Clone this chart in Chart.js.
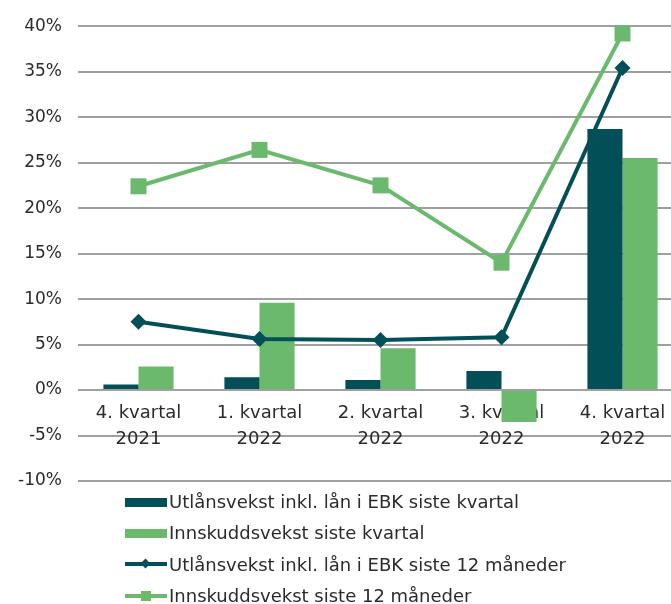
<!DOCTYPE html>
<html>
<head>
<meta charset="utf-8">
<script src="https://cdn.jsdelivr.net/npm/chart.js@4/dist/chart.umd.min.js"></script>
<style>
  html, body { margin: 0; padding: 0; background: #fff; overflow: hidden; }
  #clip { position: relative; width: 671px; height: 604px; overflow: hidden; }
  #wrap { position: absolute; left: 0; top: 0; width: 683px; height: 604px; }
  #chart { display: block; }
  #legend { position: absolute; left: 125px; top: 486px; font-family: "DejaVu Sans", sans-serif; font-size: 18px; color: #2b2b2b; }
  .row { display: flex; align-items: center; height: 31.3px; white-space: nowrap; }
  .mark { position: relative; width: 42px; height: 14px; margin-right: 2px; }
  .box { position: absolute; left: 0; top: 3px; width: 42px; height: 9px; }
  .line { position: absolute; left: 0; top: 5px; width: 42px; height: 4px; }
  .sq { position: absolute; left: 16px; top: 2px; width: 10px; height: 10px; }
  .dia { position: absolute; left: 17px; top: 3px; width: 7px; height: 7px; transform: rotate(45deg); }
</style>
</head>
<body>
<div id="clip">
  <div id="wrap">
    <canvas id="chart" width="683" height="604"></canvas>
    <div id="legend"></div>
  </div>
</div>
<script>
// kategorier og verdier (prosent)
const categories = [
  ['4. kvartal', '2021'],
  ['1. kvartal', '2022'],
  ['2. kvartal', '2022'],
  ['3. kvartal', '2022'],
  ['4. kvartal', '2022']
];
const utlanKvartal = [0.6, 1.4, 1.1, 2.1, 28.7];
const innskuddKvartal = [2.6, 9.6, 4.6, -3.5, 25.5];
const utlan12 = [7.5, 5.6, 5.5, 5.8, 35.4];
const innskudd12 = [22.4, 26.4, 22.5, 14.0, 39.2];
const yTicks = [-10, -5, 0, 5, 10, 15, 20, 25, 30, 35, 40];

const dark = '#024f57';
const green = '#6bb96d';
const textColor = '#2b2b2b';

const seriesNames = [
  'Utlånsvekst inkl. lån i EBK siste kvartal',
  'Innskuddsvekst siste kvartal',
  'Utlånsvekst inkl. lån i EBK siste 12 måneder',
  'Innskuddsvekst siste 12 måneder'
];

const chart = new Chart(document.getElementById('chart'), {
  type: 'bar',
  data: {
    labels: categories,
    datasets: [
      {
        type: 'line', label: seriesNames[3], data: innskudd12, order: 1,
        borderColor: green, backgroundColor: green, borderWidth: 4,
        pointStyle: 'rect', pointRadius: 11.3, pointHoverRadius: 11.3, pointBorderWidth: 0,
        tension: 0, clip: false
      },
      {
        type: 'line', label: seriesNames[2], data: utlan12, order: 0,
        borderColor: dark, backgroundColor: dark, borderWidth: 4,
        pointStyle: 'rectRot', pointRadius: 8, pointHoverRadius: 8, pointBorderWidth: 0,
        tension: 0, clip: false
      },
      {
        label: seriesNames[0], data: utlanKvartal, order: 2,
        backgroundColor: dark, categoryPercentage: 0.58, barPercentage: 1.0
      },
      {
        label: seriesNames[1], data: innskuddKvartal, order: 2,
        backgroundColor: green, categoryPercentage: 0.58, barPercentage: 1.0
      }
    ]
  },
  options: {
    responsive: false,
    animation: false,
    layout: { autoPadding: false, padding: { top: 23, right: 0, bottom: 123, left: 0 } },
    plugins: {
      legend: { display: false },
      tooltip: { enabled: false }
    },
    scales: {
      x: {
        position: { y: 0 },
        grid: { display: false, drawTicks: false },
        border: { display: false },
        ticks: {
          color: textColor,
          font: { family: 'DejaVu Sans', size: 18, lineHeight: 1.4 },
          padding: 11,
          maxRotation: 0,
          autoSkip: false
        }
      },
      y: {
        min: -10, max: 40,
        afterBuildTicks: (scale) => { scale.ticks = yTicks.map(v => ({ value: v })); },
        afterFit: (scale) => { scale.width = 78; },
        grid: { color: '#a0a0a0', lineWidth: 2, drawTicks: false },
        border: { display: false },
        ticks: {
          color: textColor,
          font: { family: 'DejaVu Sans', size: 17 },
          padding: 16,
          callback: (v) => v + '%'
        }
      }
    }
  }
});

// forklaring under diagrammet
const legendItems = [
  { name: seriesNames[0], color: dark, kind: 'box' },
  { name: seriesNames[1], color: green, kind: 'box' },
  { name: seriesNames[2], color: dark, kind: 'dia' },
  { name: seriesNames[3], color: green, kind: 'sq' }
];
document.getElementById('legend').innerHTML = legendItems.map(item => `
  <div class="row">
    <div class="mark">
      ${item.kind === 'box'
        ? `<div class="box" style="background:${item.color}"></div>`
        : `<div class="line" style="background:${item.color}"></div><div class="${item.kind}" style="background:${item.color}"></div>`}
    </div>
    <span>${item.name}</span>
  </div>
`).join('');
</script>
</body>
</html>
